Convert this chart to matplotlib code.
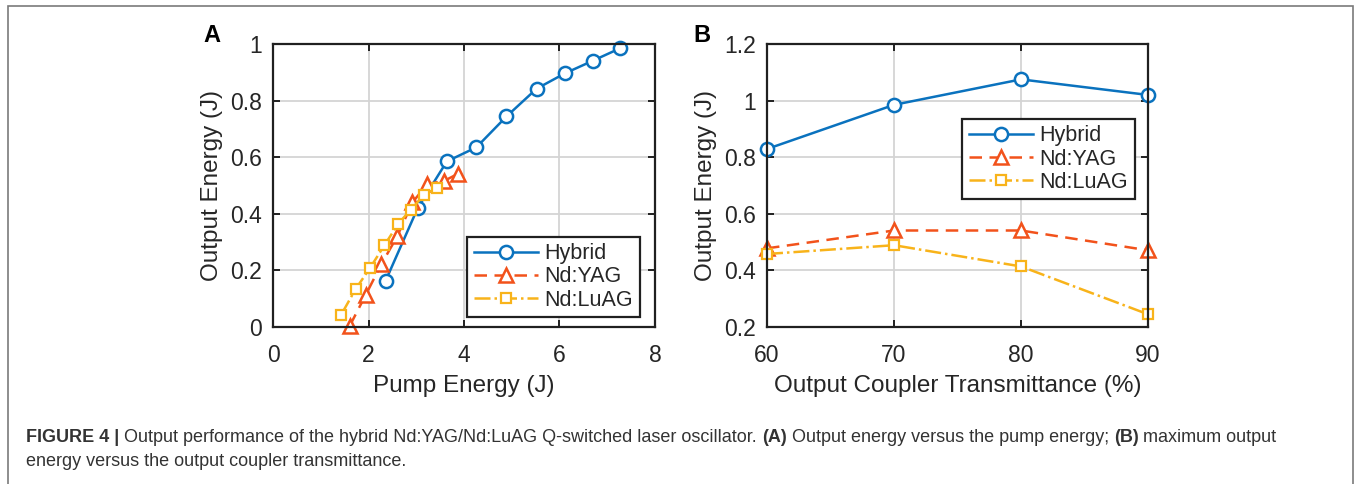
import numpy as np
import matplotlib
matplotlib.use('Agg')
import matplotlib.pyplot as plt
from matplotlib.patches import Rectangle

plt.rcParams['font.family'] = ['Liberation Sans', 'DejaVu Sans']

# panel A: output energy vs pump energy
hyb_pump = [2.36, 3.03, 3.64, 4.26, 4.89, 5.52, 6.11, 6.70, 7.27]
hyb_out = [0.164, 0.42, 0.585, 0.635, 0.744, 0.842, 0.896, 0.941, 0.985]
yag_pump = [1.61, 1.94, 2.27, 2.60, 2.92, 3.23, 3.58, 3.87]
yag_out = [0.005, 0.113, 0.222, 0.32, 0.44, 0.505, 0.516, 0.541]
luag_pump = [1.43, 1.73, 2.03, 2.33, 2.62, 2.88, 3.17, 3.44]
luag_out = [0.044, 0.134, 0.208, 0.288, 0.364, 0.414, 0.467, 0.492]

# panel B: max output energy vs coupler transmittance
trans = [60, 70, 80, 90]
hyb_max = [0.829, 0.985, 1.075, 1.02]
yag_max = [0.478, 0.541, 0.541, 0.471]
luag_max = [0.458, 0.489, 0.414, 0.245]

names = ['Hybrid', 'Nd:YAG', 'Nd:LuAG']
c_blue, c_red, c_yel = '#0A72BE', '#F2521B', '#F8B31A'

W, H = 1356, 484
fig = plt.figure(figsize=(W / 100, H / 100), dpi=100)

def ax_at(l, t, r, b):
    return fig.add_axes([l / W, 1 - b / H, (r - l) / W, (b - t) / H])

def style(ax):
    ax.grid(True, color='#d4d4d4', linewidth=1.3)
    ax.set_axisbelow(True)
    for s in ax.spines.values():
        s.set_linewidth(1.6)
        s.set_color('#202020')
    ax.tick_params(direction='in', top=True, right=True, length=5, width=1.4,
                   labelsize=16.5, colors='#202020')
    ax.tick_params(axis='x', pad=12)
    ax.tick_params(axis='y', pad=8)
    ax.tick_params(labelcolor='#262626')

def draw(ax, xs, ys):
    l1, = ax.plot(xs[0], ys[0], '-', color=c_blue, lw=1.8, marker='o', ms=9.5,
                  mfc='white', mec=c_blue, mew=1.8, clip_on=False)
    l2, = ax.plot(xs[1], ys[1], '--', color=c_red, lw=1.8, marker='^', ms=10,
                  mfc='white', mec=c_red, mew=1.8, dashes=(5, 3), clip_on=False)
    l3, = ax.plot(xs[2], ys[2], '-.', color=c_yel, lw=1.8, marker='s', ms=7,
                  mfc='white', mec=c_yel, mew=1.6, clip_on=False)
    return [l1, l2, l3]

def legend(ax, handles, loc, anchor):
    leg = ax.legend(handles, names, loc=loc, bbox_to_anchor=anchor,
                    fontsize=15.5, handlelength=3.0, frameon=True, fancybox=False,
                    borderpad=0.3, labelspacing=0.1, handletextpad=0.3,
                    borderaxespad=0)
    leg.get_frame().set_edgecolor('#202020')
    leg.get_frame().set_linewidth(1.6)
    leg.get_frame().set_alpha(1)
    for t in leg.get_texts():
        t.set_color('#262626')

axA = ax_at(273, 44, 655, 327)
style(axA)
hA = draw(axA, [hyb_pump, yag_pump, luag_pump], [hyb_out, yag_out, luag_out])
axA.set_xlim(0, 8)
axA.set_ylim(0, 1)
axA.set_xticks([0, 2, 4, 6, 8])
axA.set_yticks([0, 0.2, 0.4, 0.6, 0.8, 1])
axA.set_yticklabels(['0', '0.2', '0.4', '0.6', '0.8', '1'])
axA.set_xlabel('Pump Energy (J)', fontsize=17.5, labelpad=6, color='#262626')
axA.set_ylabel('Output Energy (J)', fontsize=17.5, labelpad=5, color='#262626')
legend(axA, hA, 'lower right', (0.96, 0.035))

axB = ax_at(767, 44, 1148, 327)
style(axB)
hB = draw(axB, [trans] * 3, [hyb_max, yag_max, luag_max])
axB.set_xlim(60, 90)
axB.set_ylim(0.2, 1.2)
axB.set_xticks(trans)
axB.set_yticks([0.2, 0.4, 0.6, 0.8, 1.0, 1.2])
axB.set_yticklabels(['0.2', '0.4', '0.6', '0.8', '1', '1.2'])
axB.set_xlabel('Output Coupler Transmittance (%)', fontsize=17.5, labelpad=6,
               color='#262626')
axB.set_ylabel('Output Energy (J)', fontsize=17.5, labelpad=5, color='#262626')
legend(axB, hB, 'upper right', (0.965, 0.735))

fig.text(203 / W, 1 - 35 / H, 'A', fontsize=17, fontweight='bold', va='center')
fig.text(693 / W, 1 - 35 / H, 'B', fontsize=17, fontweight='bold', va='center')

# outer frame
fig.patches.append(Rectangle((8 / W, -0.05), (1353 - 8) / W, 1.05 - 6 / H,
                             transform=fig.transFigure, fill=False,
                             edgecolor='#7a7a7a', linewidth=1.2))

# caption with mixed weights
fig.canvas.draw()
rend = fig.canvas.get_renderer()

def caption_line(y, pieces):
    x = 26
    for txt, bold in pieces:
        t = fig.text(x / W, 1 - y / H, txt, fontsize=13.0, va='center',
                     fontweight='bold' if bold else 'normal', color='#333333')
        x += t.get_window_extent(rend).width

caption_line(437, [('FIGURE 4 | ', True),
                   ('Output performance of the hybrid Nd:YAG/Nd:LuAG Q-switched laser oscillator. ', False),
                   ('(A)', True),
                   (' Output energy versus the pump energy; ', False),
                   ('(B)', True),
                   (' maximum output', False)])
caption_line(462, [('energy versus the output coupler transmittance.', False)])

fig.savefig('out.png', dpi=100)
